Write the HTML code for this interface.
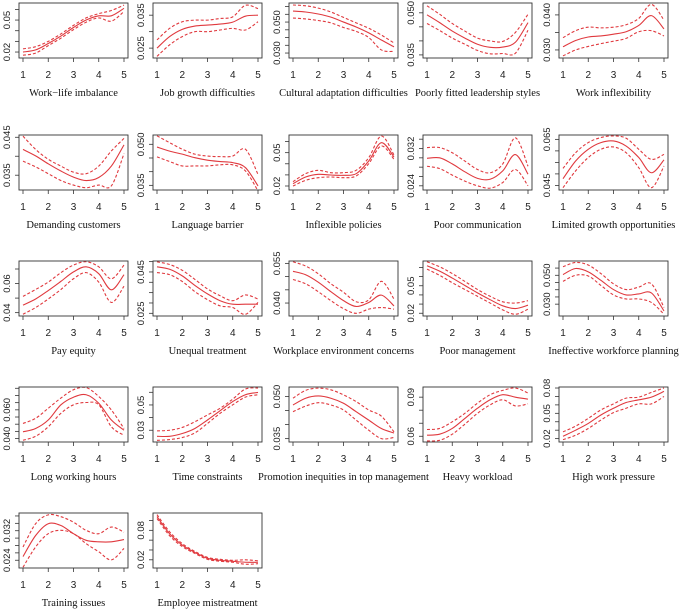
<!DOCTYPE html>
<html><head><meta charset="utf-8"><style>
html,body{margin:0;padding:0;background:#fff;}
svg{display:block;}
</style></head><body>
<svg id="chart" width="685" height="609" viewBox="0 0 685 609" xmlns="http://www.w3.org/2000/svg"></svg>
<script>
const titles = ["Work\u2212life imbalance","Job growth difficulties","Cultural adaptation difficulties","Poorly fitted leadership styles","Work inflexibility",
"Demanding customers","Language barrier","Inflexible policies","Poor communication","Limited growth opportunities",
"Pay equity","Unequal treatment","Workplace environment concerns","Poor management","Ineffective workforce planning",
"Long  working hours","Time constraints","Promotion inequities in top management","Heavy workload","High work pressure",
"Training issues","Employee mistreatment"];
const xValues = [1,1.5,2,2.5,3,3.5,4,4.5,5];
const xTicks = [1,2,3,4,5];
const yLimits = [[.0144,.066],[.022,.0387],[.0268,.0623],[.0339,.0535],[.0277,.0434],
[.0311,.0456],[.0333,.0534],[.0164,.0659],[.0231,.0349],[.043,.0669],
[.0377,.0755],[.0237,.0503],[.0351,.0559],[.017,.077],[.0218,.0599],
[.0376,.0759],[.0207,.0642],[.0338,.0534],[.0556,.0978],[.016,.0812],
[.0219,.0368],[.0033,.1153]];
const yTicks = [[.02,.03,.04,.05,.06],[.025,.03,.035],[.03,.035,.04,.045,.05,.055,.06],[.035,.04,.045,.05],[.03,.035,.04],
[.035,.04,.045],[.035,.04,.045,.05],[.02,.03,.04,.05,.06],[.024,.026,.028,.03,.032,.034],[.045,.05,.055,.06,.065],
[.04,.05,.06,.07],[.025,.03,.035,.04,.045,.05],[.04,.045,.05,.055],[.02,.03,.04,.05,.06,.07],[.03,.035,.04,.045,.05,.055],
[.04,.045,.05,.055,.06,.065,.07,.075],[.03,.04,.05,.06],[.035,.04,.045,.05],[.06,.07,.08,.09],[.02,.03,.04,.05,.06,.07,.08],
[.024,.026,.028,.03,.032,.034,.036],[.02,.04,.06,.08,.1]];
const yLabels = [["0.02","0.05"],["0.025","0.035"],["0.030","0.050"],["0.035","0.050"],["0.030","0.040"],
["0.035","0.045"],["0.035","0.050"],["0.02","0.05"],["0.024","0.032"],["0.045","0.065"],
["0.04","0.06"],["0.025","0.045"],["0.040","0.055"],["0.02","0.05"],["0.030","0.050"],
["0.040","0.060"],["0.03","0.05"],["0.035","0.050"],["0.06","0.09"],["0.02","0.05","0.08"],
["0.024","0.032"],["0.02","0.08"]];
const meanSeries = [
[.020,.022,.028,.035,.043,.050,.054,.054,.061],
[.025,.0285,.0307,.0317,.032,.0323,.0329,.0347,.035],
[.0571,.0565,.0552,.0532,.050,.0468,.043,.0384,.034],
[.0493,.0465,.0435,.041,.0388,.0377,.0378,.0395,.0465],
[.0309,.0327,.0337,.034,.0345,.0352,.037,.0398,.036],
[.0418,.0401,.0380,.0361,.0345,.0336,.0344,.0374,.0430],
[.0490,.0475,.0464,.0451,.0442,.0437,.0433,.0415,.0348],
[.0221,.0281,.0305,.0299,.0296,.0311,.0425,.0590,.0461],
[.0299,.0300,.0287,.0270,.0256,.0254,.0272,.0307,.0265],
[.0479,.0556,.0607,.0636,.0643,.0621,.0571,.0505,.0561],
[.0452,.0494,.0552,.0615,.0680,.0715,.0668,.0557,.0661],
[.0475,.0463,.0431,.0385,.0344,.0311,.0294,.0294,.0294],
[.0520,.0507,.0479,.0443,.0409,.0387,.0402,.0430,.0389],
[.0718,.0659,.0584,.0503,.0422,.0348,.0281,.0251,.0288],
[.0505,.0547,.0524,.0465,.0401,.0364,.0371,.0378,.0253],
[.0447,.0470,.0529,.0635,.0688,.0705,.0646,.0529,.0458],
[.0252,.0252,.0274,.0314,.0381,.0455,.0527,.0581,.0599],
[.0470,.0494,.0502,.0494,.0476,.0446,.0416,.0386,.0370],
[.0608,.0616,.0660,.0737,.0815,.0880,.0919,.0900,.0885],
[.0228,.030,.038,.048,.056,.0628,.066,.0692,.076],
[.0250,.0307,.0339,.0334,.0312,.0294,.0290,.0290,.0296],
[.108,.073,.050,.035,.023,.019,.017,.015,.015]];
const upperSeries = [
[.023,.025,.030,.037,.045,.052,.056,.059,.064],
[.0275,.031,.033,.0335,.0335,.034,.0345,.038,.037],
[.061,.0605,.059,.0565,.053,.0495,.046,.0416,.0365],
[.0525,.0495,.0462,.0435,.0410,.0400,.0398,.0430,.0495],
[.0335,.0355,.0365,.0363,.0365,.0372,.039,.0430,.0385],
[.0453,.0418,.0392,.0374,.0358,.0354,.0374,.0414,.0447],
[.0531,.0506,.0482,.0464,.0457,.0455,.0457,.0482,.0390],
[.0239,.0311,.0341,.0320,.0320,.0341,.0455,.0650,.0479],
[.0322,.0322,.0311,.0293,.0275,.0268,.0287,.0343,.0282],
[.0524,.0592,.0636,.0658,.0665,.0655,.0607,.0563,.0585],
[.0512,.0559,.0610,.0675,.0727,.0750,.0715,.0633,.0727],
[.0499,.0486,.0458,.0414,.0368,.0335,.0311,.0339,.0319],
[.0556,.0540,.0511,.0473,.0441,.0405,.0412,.0482,.0415],
[.0762,.0707,.0633,.0547,.0459,.0385,.0325,.0311,.0337],
[.0559,.0589,.0571,.0512,.0441,.0401,.0418,.0441,.0277],
[.0505,.0541,.0611,.0682,.0740,.0755,.0693,.0599,.0470],
[.0295,.0300,.0322,.0367,.0421,.0474,.0546,.0626,.0634],
[.0494,.0522,.0530,.0524,.0506,.0482,.0452,.0430,.0374],
[.0652,.0660,.0711,.0776,.0854,.0919,.0952,.0970,.0932],
[.028,.0348,.044,.054,.0612,.068,.0692,.0748,.080],
[.0276,.0339,.0363,.0358,.0343,.0321,.0312,.0330,.0316],
[.112,.077,.053,.037,.025,.021,.019,.020,.018]];
const lowerSeries = [
[.017,.019,.026,.033,.041,.048,.052,.049,.058],
[.0225,.026,.0285,.030,.030,.0305,.031,.0305,.033],
[.0526,.052,.051,.0495,.0465,.044,.040,.032,.031],
[.0462,.0437,.0410,.0388,.0366,.0354,.0355,.0356,.0438],
[.0283,.030,.031,.0318,.0325,.0333,.0352,.0355,.034],
[.0387,.0372,.0354,.0336,.0324,.0317,.0324,.0322,.0407],
[.0454,.0437,.0421,.0421,.0421,.0425,.0425,.0403,.0330],
[.0200,.0251,.0275,.0281,.0275,.0290,.0401,.0560,.0440],
[.0282,.0277,.0263,.0250,.0240,.0235,.0247,.0275,.0240],
[.0440,.0513,.0571,.0607,.0617,.0592,.0527,.0440,.0534],
[.0389,.0435,.0494,.0559,.0633,.0675,.0610,.0470,.0582],
[.0447,.0437,.0404,.0355,.0316,.0286,.0278,.0245,.0303],
[.0489,.0473,.0443,.0409,.0379,.0361,.0377,.0383,.0377],
[.0681,.0614,.0533,.0459,.0385,.0311,.0237,.0189,.0244],
[.0458,.0500,.0495,.0430,.0364,.0336,.0336,.0312,.0230],
[.0388,.0416,.0482,.0576,.0635,.0651,.0635,.0482,.0423],
[.0220,.0226,.0242,.0279,.0354,.0434,.0501,.0562,.0581],
[.0446,.0466,.0478,.0470,.0452,.0416,.0380,.0350,.0354],
[.0564,.0569,.0616,.0693,.0776,.0841,.0880,.0833,.0849],
[.0188,.024,.032,.042,.0508,.056,.0612,.0612,.07],
[.0221,.0276,.0312,.0321,.0312,.0285,.0263,.0241,.0272],
[.104,.069,.047,.033,.021,.017,.015,.011,.012]];

const NS = "http://www.w3.org/2000/svg";
const svg = document.getElementById('chart');
const tick1X = [23,157,293,427,563];
const rowBottom = [58,190,316,442,568];
const SPAN = 101, BOXH = 55;
const RED = "#e0393e";

function mk(tag, attrs, parent){
  const e = document.createElementNS(NS, tag);
  for (const k in attrs) e.setAttribute(k, attrs[k]);
  parent.appendChild(e);
  return e;
}
function smoothPath(pts){
  let d = "M" + pts[0][0].toFixed(2) + "," + pts[0][1].toFixed(2);
  for (let i = 0; i < pts.length - 1; i++){
    const p0 = pts[Math.max(i-1,0)], p1 = pts[i], p2 = pts[i+1], p3 = pts[Math.min(i+2, pts.length-1)];
    const c1x = p1[0] + (p2[0]-p0[0])/6, c1y = p1[1] + (p2[1]-p0[1])/6;
    const c2x = p2[0] - (p3[0]-p1[0])/6, c2y = p2[1] - (p3[1]-p1[1])/6;
    d += " C" + c1x.toFixed(2) + "," + c1y.toFixed(2) + " " + c2x.toFixed(2) + "," + c2y.toFixed(2) + " " + p2[0].toFixed(2) + "," + p2[1].toFixed(2);
  }
  return d;
}

titles.forEach(function(title, i){
  const col = i % 5, row = Math.floor(i / 5);
  const x1 = tick1X[col], bottom = rowBottom[row], top = bottom - BOXH;
  const left = x1 - 4, right = x1 + SPAN + 4;
  const lo = yLimits[i][0], hi = yLimits[i][1];
  const xs = function(v){ return x1 + (v - 1) / 4 * SPAN; };
  const ys = function(v){ return bottom - (v - lo) / (hi - lo) * BOXH; };

  const g = mk('g', {}, svg);
  
  

  const clipId = 'clip' + i;
  const cp = mk('clipPath', {id: clipId}, g);
  mk('rect', {x: left, y: top, width: right-left, height: BOXH}, cp);

  const lines = mk('g', {'clip-path': 'url(#' + clipId + ')'}, g);
  
  
  const sets = [[upperSeries[i], 'upper-ci-line', '3,2'], [lowerSeries[i], 'lower-ci-line', '3,2'], [meanSeries[i], 'smooth-effect-line', null]];
  sets.forEach(function(s){
    const pts = xValues.map(function(xv, k){ return [xs(xv), ys(s[0][k])]; });
    const p = mk('path', {d: smoothPath(pts), fill: 'none', stroke: RED, 'stroke-width': 1.1}, lines);
    if (s[2]) p.setAttribute('stroke-dasharray', s[2]);
    
    
  });

  const box = mk('rect', {x: left, y: top, width: right-left, height: BOXH, fill: 'none', stroke: '#333', 'stroke-width': 0.9}, g);
  
  

  xTicks.forEach(function(t){
    const tx = xs(t);
    const tl = mk('line', {x1: tx, x2: tx, y1: bottom, y2: bottom + 4, stroke: '#333', 'stroke-width': 0.8}, g);
    
    
    const lb = mk('text', {x: tx, y: bottom + 20, 'text-anchor': 'middle', 'font-family': 'Liberation Sans, sans-serif', 'font-size': 10, fill: '#222'}, g);
    lb.textContent = String(t);
    
    
  });

  yTicks[i].forEach(function(t){
    const ty = ys(t);
    if (ty < top - 0.5 || ty > bottom + 0.5) return;
    const tl = mk('line', {x1: left - 4, x2: left, y1: ty, y2: ty, stroke: '#333', 'stroke-width': 0.8}, g);
    
    
  });
  yLabels[i].forEach(function(lab){
    const ty = ys(parseFloat(lab));
    const lx = left - 9;
    const t = mk('text', {x: lx, y: ty, 'text-anchor': 'middle', transform: 'rotate(-90 ' + lx + ' ' + ty + ')', 'font-family': 'Liberation Sans, sans-serif', 'font-size': 9.5, fill: '#222'}, g);
    t.textContent = lab;
    
    
  });

  const tt = mk('text', {x: (left + right) / 2, y: bottom + 38, 'text-anchor': 'middle', 'font-family': 'Liberation Serif, serif', 'font-size': 10.5, fill: '#111'}, g);
  tt.textContent = title;
  
  
});
</script>
</body></html>
